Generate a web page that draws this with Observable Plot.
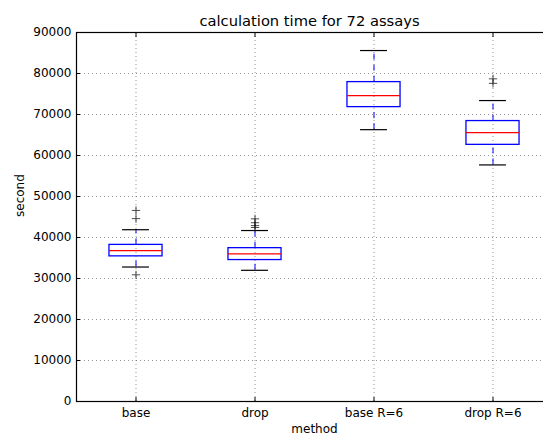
<!DOCTYPE html>
<html>
<head>
<meta charset="utf-8">
<script src="https://cdn.jsdelivr.net/npm/d3@7"></script>
<script src="https://cdn.jsdelivr.net/npm/@observablehq/plot@0.6"></script>
<style>
  html, body { margin: 0; padding: 0; background: #fff; overflow: hidden; }
  #wrap { width: 543px; height: 435px; position: relative; font-family: "DejaVu Sans", sans-serif; }
  #title { height: 28px; box-sizing: border-box; padding-left: 76px; padding-top: 14px; width: 543px;
           font-size: 14.7px; line-height: 1; text-align: center; color: #000; white-space: nowrap; }
</style>
</head>
<body>
<div id="wrap"><div id="title">calculation time for 72 assays</div></div>
<script>
const categories = ["base", "drop", "base R=6", "drop R=6"];
const q1 = [35400, 34500, 71800, 62600];
const median = [36800, 36000, 74600, 65600];
const q3 = [38200, 37400, 77900, 68400];
const whiskerLow = [32800, 32000, 66300, 57700];
const whiskerHigh = [41900, 41700, 85600, 73400];
const outlierCategory = ["base", "base", "base", "drop", "drop", "drop", "drop", "drop R=6", "drop R=6"];
const outlierValue = [30900, 44600, 46600, 44550, 43600, 42900, 42450, 78700, 77600];
const yTicks = [0, 10000, 20000, 30000, 40000, 50000, 60000, 70000, 80000, 90000];

const boxHalf = 0.223;
const capHalf = 0.113;
const boxes = categories.map((c, i) => ({
  i, c, q1: q1[i], median: median[i], q3: q3[i], lo: whiskerLow[i], hi: whiskerHigh[i]
}));
const outliers = outlierCategory.map((c, k) => ({ i: categories.indexOf(c), v: outlierValue[k] }));
const idx = categories.map((c, i) => i);

const chart = Plot.plot({
  width: 543,
  height: 407,
  marginTop: 4,
  marginBottom: 34,
  marginLeft: 76,
  marginRight: -9,
  style: { fontFamily: "DejaVu Sans, sans-serif", fontSize: "12px", color: "#000", background: "#fff", overflow: "visible" },
  x: { type: "linear", domain: [-0.5, 3.5] },
  y: { type: "linear", domain: [0, 90000] },
  marks: [
    Plot.gridY(yTicks, { stroke: "#000", strokeOpacity: 0.7, strokeWidth: 0.6, strokeDasharray: "1,3" }),
    Plot.gridX(idx, { stroke: "#000", strokeOpacity: 0.7, strokeWidth: 0.6, strokeDasharray: "1,3" }),
    Plot.ruleX(boxes, { x: "i", y1: "q3", y2: "hi", stroke: "#0000ff", strokeWidth: 1, strokeDasharray: "6,5" }),
    Plot.ruleX(boxes, { x: "i", y1: "lo", y2: "q1", stroke: "#0000ff", strokeWidth: 1, strokeDasharray: "6,5" }),
    Plot.rect(boxes, { x1: d => d.i - boxHalf, x2: d => d.i + boxHalf, y1: "q1", y2: "q3", fill: "none", stroke: "#0000ff", strokeWidth: 1.3 }),
    Plot.ruleY(boxes, { y: "median", x1: d => d.i - boxHalf, x2: d => d.i + boxHalf, stroke: "#ff0000", strokeWidth: 1.2 }),
    Plot.ruleY(boxes, { y: "hi", x1: d => d.i - capHalf, x2: d => d.i + capHalf, stroke: "#000", strokeWidth: 1.2 }),
    Plot.ruleY(boxes, { y: "lo", x1: d => d.i - capHalf, x2: d => d.i + capHalf, stroke: "#000", strokeWidth: 1.2 }),
    Plot.dot(outliers, { x: "i", y: "v", symbol: "plus", r: 2.8, stroke: "#000", strokeWidth: 0.7 }),
    Plot.frame({ stroke: "#000", strokeWidth: 1.2 }),
    Plot.axisY(yTicks, { tickSize: -4, tickPadding: 9, tickFormat: d => String(d), label: null, fill: "#000", stroke: "#000" }),
    Plot.axisX(idx, { tickSize: -4, tickPadding: 11, tickFormat: i => categories[i], label: null, fill: "#000", stroke: "#000" }),
    Plot.axisX(idx, { anchor: "top", tickSize: -4, tickFormat: () => "", label: null, stroke: "#000" }),
    Plot.text(["method"], { frameAnchor: "bottom", dy: 31, text: d => d, fontSize: 12, fill: "#000" }),
    Plot.text(["second"], { frameAnchor: "left", dx: -56, rotate: -90, text: d => d, fontSize: 12, fill: "#000" })
  ]
});
document.getElementById("wrap").appendChild(chart);
</script>
</body>
</html>
